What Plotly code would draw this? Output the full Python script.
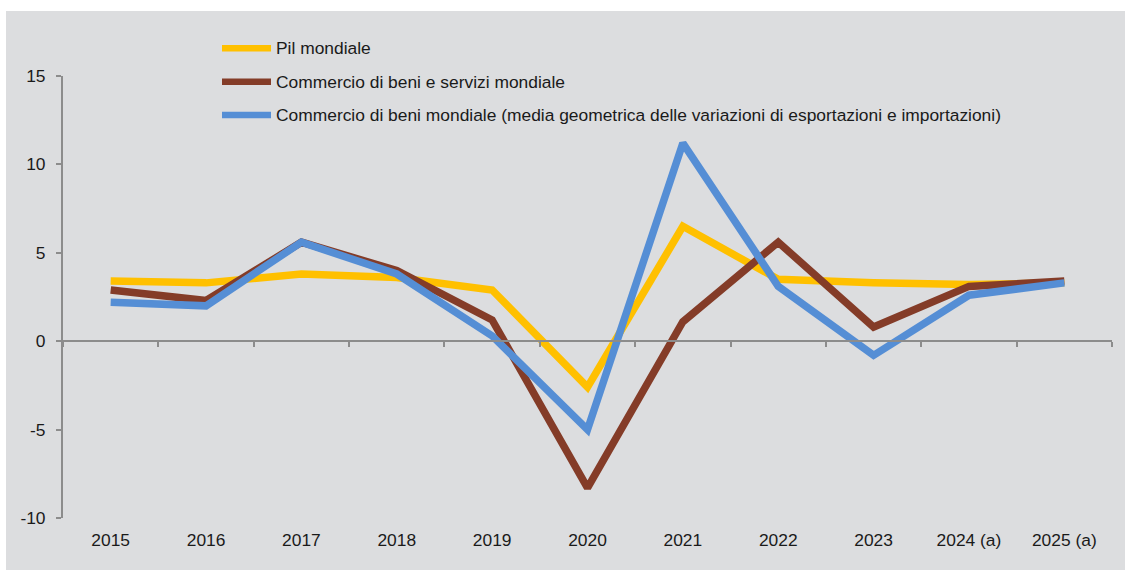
import plotly.graph_objects as go

# Categories and series (annual % change)
years = ["2015", "2016", "2017", "2018", "2019", "2020", "2021", "2022", "2023", "2024 (a)", "2025 (a)"]
pil_mondiale = [3.4, 3.3, 3.8, 3.6, 2.9, -2.6, 6.5, 3.5, 3.3, 3.2, 3.3]
commercio_beni_servizi = [2.9, 2.3, 5.6, 4.0, 1.2, -8.3, 1.1, 5.6, 0.8, 3.1, 3.4]
commercio_beni = [2.2, 2.0, 5.6, 3.8, 0.3, -5.0, 11.2, 3.1, -0.8, 2.6, 3.3]

series_names = [
    "Pil mondiale",
    "Commercio di beni e servizi mondiale",
    "Commercio di beni mondiale (media geometrica delle variazioni di esportazioni e importazioni)",
]
series_values = [pil_mondiale, commercio_beni_servizi, commercio_beni]
series_colors = ["#FFC000", "#843C28", "#558ED5"]

y_ticks = [-10, -5, 0, 5, 10, 15]
y_tick_labels = ["-10", "-5", "0", "5", "10", "15"]

W, H = 1127, 570
ML, MR, MT, MB = 63, 15, 76, 52
PW, PH = W - ML - MR, H - MT - MB


def px_x(px):
    return (px - ML) / PW


def px_y(py):
    return (H - MB - py) / PH


FONT = "Liberation Sans, Arial, sans-serif"
FS = 17.4
TEXT_COL = "#1a1a1a"
AXIS_GREY = "#8c8c8c"
BG_GREY = "#dcdddf"

fig = go.Figure()

for name, vals, col in zip(series_names, series_values, series_colors):
    fig.add_trace(go.Scatter(
        x=years, y=vals, name=name, mode="lines",
        line=dict(color=col, width=7.5),
        xaxis="x", yaxis="y", showlegend=False,
    ))

# helper trace carrying the bottom category labels
fig.add_trace(go.Scatter(
    x=years, y=[None] * len(years), xaxis="x2", yaxis="y",
    mode="lines", showlegend=False, hoverinfo="skip",
))

shapes = [
    dict(type="rect", xref="paper", yref="paper", layer="below",
         x0=px_x(6), x1=px_x(1125), y0=px_y(570), y1=px_y(11),
         fillcolor=BG_GREY, line=dict(width=0)),
]
annotations = []

# legend: line sample + label
legend_rows = [48.3, 81.7, 115.0]
for name, col, ry in zip(series_names, series_colors, legend_rows):
    shapes.append(dict(type="line", xref="paper", yref="paper",
                       x0=px_x(222), x1=px_x(271), y0=px_y(ry), y1=px_y(ry),
                       line=dict(color=col, width=6.5)))
    annotations.append(dict(xref="paper", yref="paper", x=px_x(274), y=px_y(ry),
                            text=name, showarrow=False, xanchor="left", yanchor="middle",
                            font=dict(family=FONT, size=FS, color=TEXT_COL)))

zero_pos = (0 - y_ticks[0]) / (y_ticks[-1] - y_ticks[0])

fig.update_layout(
    width=W, height=H,
    margin=dict(l=ML, r=MR, t=MT, b=MB, pad=0),
    paper_bgcolor="white",
    plot_bgcolor="rgba(0,0,0,0)",
    font=dict(family=FONT, size=FS, color=TEXT_COL),
    shapes=shapes,
    annotations=annotations,
    xaxis=dict(
        type="category", categoryorder="array", categoryarray=years,
        range=[-0.5, len(years) - 0.5],
        anchor="free", position=zero_pos,
        showline=True, linecolor=AXIS_GREY, linewidth=2,
        ticks="outside", tickson="boundaries", ticklen=5, tickwidth=1.5, tickcolor=AXIS_GREY,
        showticklabels=False, showgrid=False, zeroline=False,
    ),
    xaxis2=dict(
        type="category", categoryorder="array", categoryarray=years,
        range=[-0.5, len(years) - 0.5],
        overlaying="x", anchor="y", side="bottom",
        showline=False, ticks="", showgrid=False, zeroline=False,
        tickfont=dict(family=FONT, size=FS, color=TEXT_COL),
        ticklabelstandoff=10,
    ),
    yaxis=dict(
        range=[y_ticks[0], y_ticks[-1]], tickvals=y_ticks, ticktext=y_tick_labels,
        showline=True, linecolor=AXIS_GREY, linewidth=2,
        ticks="outside", ticklen=5, tickwidth=1.5, tickcolor=AXIS_GREY,
        showgrid=False, zeroline=False,
        tickfont=dict(family=FONT, size=FS, color=TEXT_COL),
        ticklabelstandoff=7,
    ),
)

fig.write_html("out.html")
